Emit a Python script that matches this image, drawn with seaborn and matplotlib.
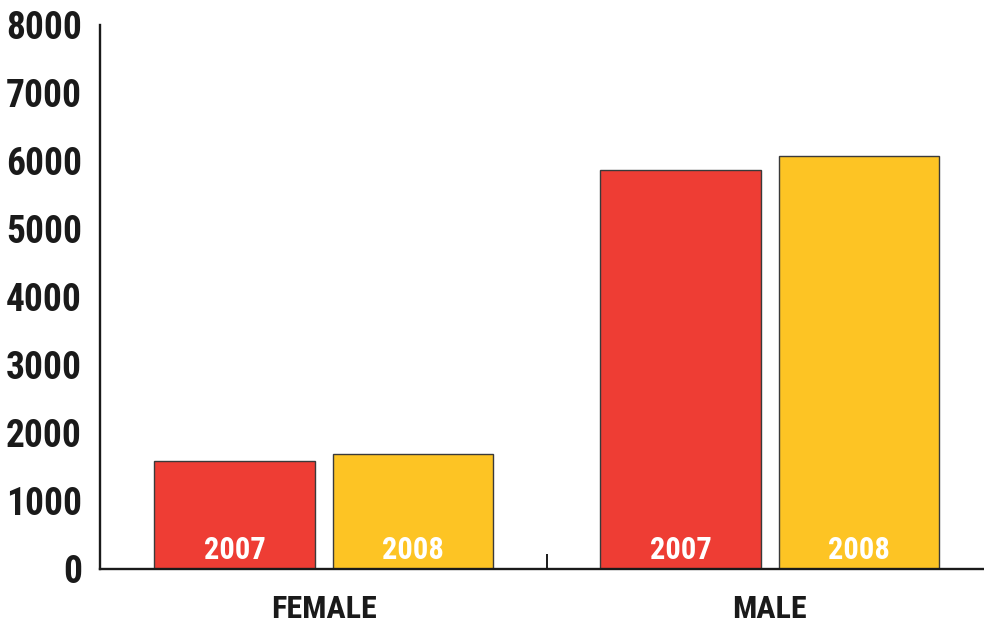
import os
import matplotlib
matplotlib.use("Agg")
import matplotlib.pyplot as plt
from matplotlib import font_manager as fm
import seaborn as sns
import pandas as pd

genders = ["FEMALE", "MALE"]
years = ["2007", "2008"]
values_2007 = [1580, 5860]
values_2008 = [1680, 6065]
yticks = [0, 1000, 2000, 3000, 4000, 5000, 6000, 7000, 8000]

colors = ["#EE3D34", "#FDC424"]

df = pd.DataFrame({
    "gender": genders * 2,
    "year": [years[0]] * 2 + [years[1]] * 2,
    "count": values_2007 + values_2008,
})

sns.set_style("white")

files = {os.path.basename(f.fname).lower(): f.fname for f in fm.fontManager.ttflist}
prefs = ["robotocondensed-bold.ttf", "archivonarrow-bold.ttf",
         "barlowcondensed-bold.ttf", "firasanscondensed-bold.ttf",
         "dejavusanscondensed-bold.ttf"]
chosen = None
for p in prefs:
    if p in files:
        chosen = files[p]
        break
base_fp = (fm.FontProperties(fname=chosen) if chosen
           else fm.FontProperties(family="Liberation Sans", weight="bold"))


def fp(size):
    p = base_fp.copy()
    p.set_size(size)
    return p


fig = plt.figure(figsize=(9.84, 6.22), dpi=100)
ax = fig.add_axes([100 / 984, 1 - 568.5 / 622, 1 - 100 / 984, (568.5 - 24.5) / 622])

sns.barplot(data=df, x="gender", y="count", hue="year", order=genders,
            hue_order=years, palette=colors, width=0.8, gap=0.1,
            edgecolor="#3a3a3a", linewidth=1.0, legend=False, ax=ax,
            saturation=1)

for container, yr in zip(ax.containers, years):
    for bar in container:
        ax.annotate(yr, xy=(bar.get_x() + bar.get_width() / 2, 0),
                    xytext=(0, 6.5), textcoords="offset points",
                    ha="center", va="baseline", color="white",
                    fontproperties=fp(22))

ax.set_ylim(0, 8000)
ax.set_xlim(-0.502, 1.48)
ax.set_yticks(yticks)
ax.set_yticklabels([str(v) for v in yticks], color="#1a1a1a", fontproperties=fp(27))
ax.set_xticks([0, 1])
ax.set_xticklabels(genders, color="#1a1a1a", fontproperties=fp(23))
ax.set_xticks([0.5], minor=True)
ax.set_xlabel("")
ax.set_ylabel("")

ax.tick_params(axis="y", which="major", direction="in", length=16.5,
               width=1.5, color="#1a1a1a", pad=13)
ax.tick_params(axis="x", which="major", length=0, pad=18)
ax.tick_params(axis="x", which="minor", direction="in", length=11,
               width=1.4, color="#1a1a1a", bottom=True)

for side in ["top", "right"]:
    ax.spines[side].set_visible(False)
for side in ["left", "bottom"]:
    ax.spines[side].set_linewidth(1.7)
    ax.spines[side].set_color("#1a1a1a")

ax.grid(False)
fig.savefig("out.png", dpi=100)
